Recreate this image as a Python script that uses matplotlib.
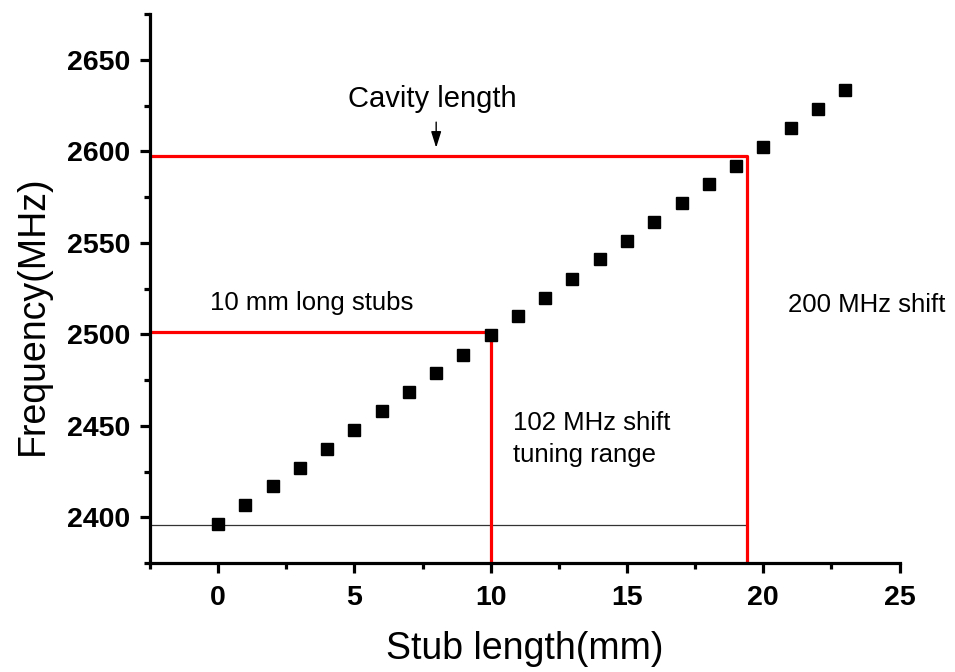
import matplotlib
matplotlib.use('Agg')
import matplotlib.pyplot as plt
from matplotlib.ticker import MultipleLocator

plt.rcParams['font.family'] = ['Liberation Sans', 'DejaVu Sans']

# measured resonance vs stub length
stub_mm = [0, 1, 2, 3, 4, 5, 6, 7, 8, 9, 10, 11,
           12, 13, 14, 15, 16, 17, 18, 19, 20, 21, 22, 23]
freq_mhz = [2396.5, 2406.5, 2417, 2427, 2437.5, 2448, 2458, 2468.5,
            2479, 2489, 2499.5, 2510, 2520, 2530.5, 2541, 2551,
            2561.5, 2572, 2582, 2592, 2602.5, 2613, 2623, 2633.5]

# guide lines
base_freq = 2396
stub10_freq = 2501.5
cavity_freq = 2597.5
cavity_len = 19.4

fig = plt.figure(figsize=(9.55, 6.72), dpi=100)
ax = fig.add_axes([0.157, 0.162, 0.785, 0.817])

ax.plot(stub_mm, freq_mhz, 's', color='black', markersize=8.5, zorder=3)

# red boxes
ax.plot([-2.5, 10, 10], [stub10_freq, stub10_freq, 2300], color='red', lw=2.3, zorder=2)
ax.plot([-2.5, cavity_len, cavity_len], [cavity_freq, cavity_freq, 2300], color='red', lw=2.3, zorder=2)
ax.plot([-2.5, cavity_len], [base_freq, base_freq], color='#333333', lw=0.9, zorder=1)

ax.annotate('', xy=(8.0, 2600.5), xytext=(8.0, 2617.5),
            arrowprops=dict(arrowstyle='-|>,head_length=0.7,head_width=0.22',
                            color='black', lw=1, mutation_scale=14))
ax.text(7.85, 2624, 'Cavity length', fontsize=21, ha='center', va='baseline')
ax.text(-0.3, 2513.5, '10 mm long stubs', fontsize=18.5, va='baseline')
ax.text(20.9, 2512.5, '200 MHz shift', fontsize=18.5, va='baseline')
ax.text(10.8, 2448, '102 MHz shift', fontsize=18.5, va='baseline')
ax.text(10.8, 2430.5, 'tuning range', fontsize=18.5, va='baseline')

ax.set_xlim(-2.5, 25)
ax.set_ylim(2375, 2675)
ax.xaxis.set_major_locator(MultipleLocator(5))
ax.xaxis.set_minor_locator(MultipleLocator(2.5))
ax.yaxis.set_major_locator(MultipleLocator(50))
ax.yaxis.set_minor_locator(MultipleLocator(25))
ax.set_yticks([2400, 2450, 2500, 2550, 2600, 2650])

ax.spines['top'].set_visible(False)
ax.spines['right'].set_visible(False)
for s in ['left', 'bottom']:
    ax.spines[s].set_linewidth(2.3)

ax.tick_params(which='major', direction='out', length=7, width=2.3, labelsize=20.5)
ax.tick_params(axis='y', which='major', pad=7)
ax.tick_params(axis='x', which='major', pad=9)
ax.tick_params(which='minor', direction='out', length=4, width=2.3)
for lab in ax.get_xticklabels() + ax.get_yticklabels():
    lab.set_fontweight('bold')

ax.set_xlabel('Stub length(mm)', fontsize=27, labelpad=14)
ax.set_ylabel('Frequency(MHz)', fontsize=27)
ax.yaxis.set_label_coords(-0.132, 0.452)

fig.savefig('out.png', dpi=100)
